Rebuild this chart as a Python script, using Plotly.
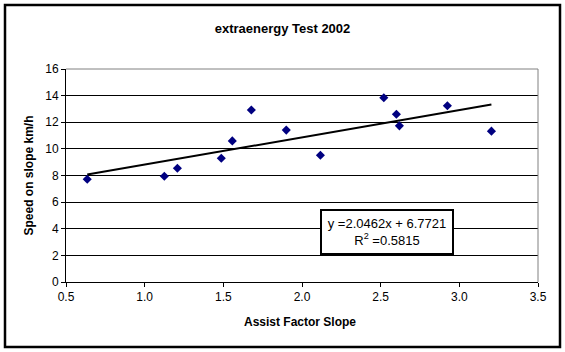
import plotly.graph_objects as go

# Data
assist_factor = [0.635, 1.125, 1.208, 1.487, 1.557, 1.678, 1.90, 2.117, 2.52, 2.60, 2.619, 2.924, 3.204]
speed_kmh = [7.72, 7.94, 8.54, 9.30, 10.6, 12.92, 11.41, 9.52, 13.84, 12.6, 11.73, 13.24, 11.33]

slope = 2.0462
intercept = 6.7721
r_squared = 0.5815

x_ticks = [0.5, 1.0, 1.5, 2.0, 2.5, 3.0, 3.5]
y_ticks = [0, 2, 4, 6, 8, 10, 12, 14, 16]

FONT = "Liberation Sans, Arial, sans-serif"

trend_x = [min(assist_factor), max(assist_factor)]
trend_y = [slope * v + intercept for v in trend_x]

fig = go.Figure()
fig.add_trace(go.Scatter(
    x=trend_x, y=trend_y, mode="lines",
    line=dict(color="black", width=2), showlegend=False, hoverinfo="skip"))
fig.add_trace(go.Scatter(
    x=assist_factor, y=speed_kmh, mode="markers",
    marker=dict(symbol="diamond", color="#000080", size=7, line=dict(width=0)),
    showlegend=False))

L, R, T, B = 66, 538, 69, 282
W, H = 565, 352
pw, ph = R - L, B - T

def px2paper_x(px):
    return (px - L) / pw

def px2paper_y(py):
    return (B - py) / ph

fig.update_layout(
    width=W, height=H,
    margin=dict(l=L, r=W - R, t=T, b=H - B, pad=0),
    paper_bgcolor="white", plot_bgcolor="white",
    font=dict(family=FONT, size=12, color="black"),
    title=dict(text="<b>extraenergy Test 2002</b>", x=0.5, xref="container",
               y=1 - 28 / H, yref="container", yanchor="middle", xanchor="center",
               font=dict(family=FONT, size=13, color="black")),
    xaxis=dict(range=[0.5, 3.5], tickvals=x_ticks, tickformat=".1f",
               ticks="outside", ticklen=4, tickcolor="black", tickwidth=1,
               showline=True, linecolor="black", linewidth=1,
               showgrid=False, zeroline=False,
               tickfont=dict(family=FONT, size=12, color="black")),
    yaxis=dict(range=[0, 16], tickvals=y_ticks,
               ticks="outside", ticklen=4, tickcolor="black", tickwidth=1,
               showline=True, linecolor="black", linewidth=1,
               showgrid=True, gridcolor="black", gridwidth=1, zeroline=False,
               tickfont=dict(family=FONT, size=12, color="black")),
    shapes=[
        # plot-area border (top and right, gray)
        dict(type="line", xref="paper", yref="paper", x0=0, x1=1, y0=1, y1=1,
             line=dict(color="#808080", width=1), layer="above"),
        dict(type="line", xref="paper", yref="paper", x0=1, x1=1, y0=0, y1=1,
             line=dict(color="#808080", width=1), layer="above"),
        # outer chart border
        dict(type="rect", xref="paper", yref="paper",
             x0=px2paper_x(5), x1=px2paper_x(560), y0=px2paper_y(347), y1=px2paper_y(5),
             line=dict(color="black", width=2.5), fillcolor="rgba(0,0,0,0)", layer="above"),
    ],
    annotations=[
        dict(text="<b>Assist Factor Slope</b>", xref="paper", yref="paper",
             x=px2paper_x(300), y=px2paper_y(322), xanchor="center", yanchor="middle",
             showarrow=False, font=dict(family=FONT, size=12, color="black")),
        dict(text="<b>Speed on slope km/h</b>", xref="paper", yref="paper",
             x=px2paper_x(28), y=0.5, xanchor="center", yanchor="middle", textangle=-90,
             showarrow=False, font=dict(family=FONT, size=12, color="black")),
        dict(text=f"y ={slope:.4f}x + {intercept:.4f}<br>R<sup>2</sup> ={r_squared:.4f}",
             xref="paper", yref="paper",
             x=px2paper_x(387), y=px2paper_y(232), xanchor="center", yanchor="middle",
             showarrow=False, bgcolor="white", bordercolor="black", borderwidth=2,
             width=126, height=38, borderpad=2,
             font=dict(family=FONT, size=13, color="black")),
    ],
)

fig.write_html("out.html")
